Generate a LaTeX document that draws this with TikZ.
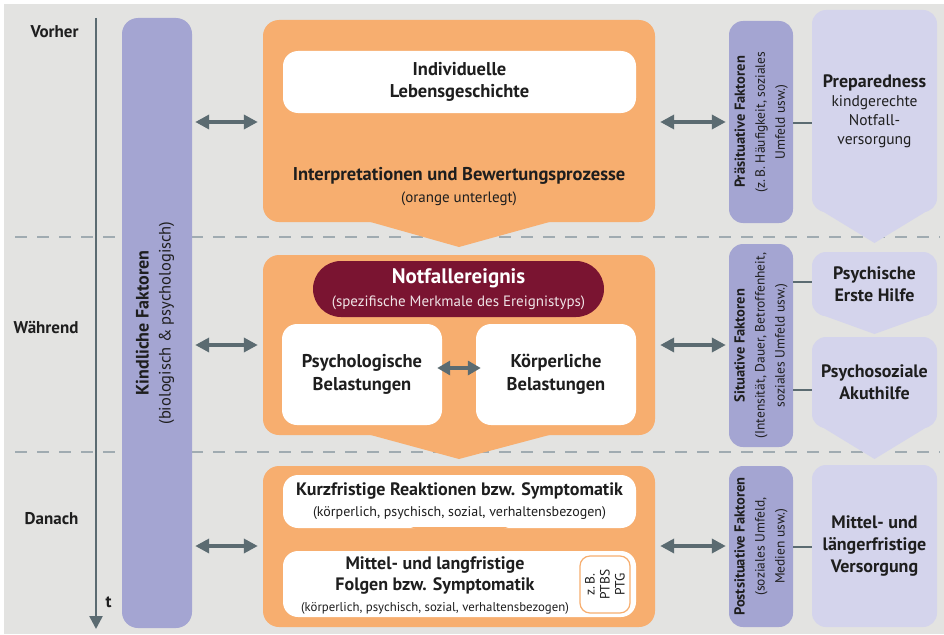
\documentclass[tikz,border=0pt]{standalone}
\usepackage{fontspec}
\setmainfont{PT Sans}
\usetikzlibrary{arrows.meta}
\definecolor{bggray}{HTML}{E3E3E1}
\definecolor{orangefill}{HTML}{F7AE6F}
\definecolor{factorfill}{HTML}{A4A5D2}
\definecolor{helpfill}{HTML}{D4D4EC}
\definecolor{eventred}{HTML}{7A1431}
\definecolor{arrowgray}{HTML}{5B6B71}
\definecolor{dashgray}{HTML}{A0ABB1}
\definecolor{textdark}{HTML}{1E1E1E}
\newcommand{\fs}[1]{\fontsize{#1}{#1}\selectfont}
\tikzset{
  orangebox/.style={fill=orangefill, rounded corners=16pt, minimum width=392pt, minimum height=#1, inner sep=0pt},
  whitebox/.style={fill=white, rounded corners=15pt, inner sep=0pt, align=center, text=textdark,
    font=\bfseries\fontsize{18.5}{22.5}\selectfont},
  factorbox/.style={fill=factorfill, rounded corners=14pt, minimum width=64pt, minimum height=#1, inner sep=0pt},
  helpbox/.style={fill=helpfill, rounded corners=14pt, minimum width=125pt, minimum height=#1, inner sep=0pt,
    align=center, text=textdark, font=\bfseries\fontsize{18}{22}\selectfont},
  factortext/.style={rotate=90, align=center, text=textdark, font=\fontsize{13.5}{20}\selectfont},
  dblarrow/.style={{Triangle[width=14pt,length=14pt]}-{Triangle[width=14pt,length=14pt]}, line width=3.5pt, draw=arrowgray},
  link/.style={draw=arrowgray, line width=1.6pt},
  phase/.style={anchor=east, text=textdark, font=\bfseries\fontsize{17}{20}\selectfont},
  sep/.style={draw=dashgray, line width=2.5pt, dash pattern=on 12pt off 10pt},
}
\begin{document}
\begin{tikzpicture}[x=1pt, y=-1pt]
\useasboundingbox (0,0) rectangle (944,634);
\fill[bggray] (4,4) rectangle (944,634);
% phases
\draw[sep] (15,237) -- (940,237);
\draw[sep] (15,452) -- (940,452);
\draw[arrowgray, line width=2.5pt, -{Triangle[width=13pt,length=13pt]}] (96,18) -- (96,629);
\node[phase] (vorher) at (82,32) {Vorher};
\node[phase] (waehrend) at (82,327) {Während};
\node[phase] (danach) at (82,519) {Danach};
\node[phase] (t) at (115,602) {t};
% child factors
\node[fill=factorfill, rounded corners=16pt, minimum width=70pt, minimum height=610pt, inner sep=0pt] (kind) at (157,323) {};
\node[rotate=90, align=center, text=textdark, font=\fontsize{16.5}{22}\selectfont] at ([xshift=-2pt]kind.center)
  {\textbf{\fs{18}Kindliche Faktoren}\\(biologisch \& psychologisch)};
% center column
\fill[orangefill] (367,221) -- (553,221) -- (459,247) -- cycle;
\fill[orangefill] (367,434) -- (553,434) -- (459,459) -- cycle;
\node[orangebox=202pt] (vor) at (459,121) {};
\node[orangebox=180pt] (waehr) at (459,345) {};
\node[orangebox=161pt] (nach) at (459,546.5) {};
\node[whitebox, minimum width=353pt, minimum height=62pt] (leben) at (459.5,82) {Individuelle\\Lebensgeschichte};
\node[align=center, text=textdark, font=\fontsize{15}{22}\selectfont] (interp) at (459,187)
  {\textbf{\fs{18.5}Interpretationen und Bewertungsprozesse}\\(orange unterlegt)};
\node[fill=eventred, rounded corners=28pt, minimum width=291pt, minimum height=56pt, inner sep=0pt,
  align=center, text=white, font=\fontsize{15}{23}\selectfont] (notfall) at (458.5,289)
  {\textbf{\fs{21}Notfallereignis}\\\textcolor{white!88!eventred}{(spezifische Merkmale des Ereignistyps)}};
\node[whitebox, minimum width=160pt, minimum height=101pt] (psych) at (362,374.5) {Psychologische\\Belastungen};
\node[whitebox, minimum width=160pt, minimum height=101pt] (koerp) at (556,374.5) {Körperliche\\Belastungen};
\draw[arrowgray, line width=3.5pt, {Triangle[width=14pt,length=13pt]}-{Triangle[width=14pt,length=13pt]}]
  ([xshift=-5pt]psych.east |- 0,368) -- ([xshift=5pt]koerp.west |- 0,368);
\node[whitebox, minimum width=353pt, minimum height=53pt] (kurz) at (459.5,501.5) {};
\node[align=center, text=textdark, font=\fontsize{14}{21}\selectfont] at (kurz)
  {\textbf{\fs{18}Kurzfristige Reaktionen bzw. Symptomatik}\\(körperlich, psychisch, sozial, verhaltensbezogen)};
\fill[orangefill] (411,527) -- (508,527) -- (459,546) -- cycle;
\node[whitebox, minimum width=353pt, minimum height=66pt] (folgen) at (459.5,584) {};
\node[align=center, text=textdark, font=\bfseries\fontsize{18}{21}\selectfont] at (435,586)
  {Mittel- und langfristige\\Folgen bzw. Symptomatik\\\mdseries\fontsize{12.8}{16}\selectfont(körperlich, psychisch, sozial, verhaltensbezogen)};
\node[draw=orangefill, line width=1.2pt, fill=white, rounded corners=10pt, minimum width=50pt, minimum height=57pt,
  inner sep=0pt] (ptbs) at (605,584.5) {};
\node[rotate=90, align=center, text=textdark, font=\fontsize{13.5}{15}\selectfont] at (ptbs) {z.\,B.\\PTBS\\PTG};
% situational factors
\node[factorbox=202pt] (prae) at (761,122) {};
\node[factortext] at (prae) {\textbf{\fs{14.5}Präsituative Faktoren}\\(z.\,B. Häufigkeit, soziales\\Umfeld usw.)};
\node[factorbox=203pt] (situ) at (761,345.5) {};
\node[factortext] at (situ) {\textbf{\fs{14.5}Situative Faktoren}\\(Intensität, Dauer, Betroffenheit,\\soziales Umfeld usw.)};
\node[factorbox=161pt] (post) at (761,546.5) {};
\node[factortext] at (post) {\textbf{\fs{14.5}Postsituative Faktoren}\\(soziales Umfeld,\\Medien usw.)};
% care column
\fill[helpfill] (822,211) -- (927,211) -- (874.5,243) -- cycle;
\fill[helpfill] (822,315) -- (927,315) -- (874.5,334) -- cycle;
\fill[helpfill] (822,427) -- (927,427) -- (874.5,459) -- cycle;
\node[helpbox=202pt, font=\mdseries\fontsize{15.5}{19}\selectfont] (prep) at (874.5,111)
  {\textbf{\fs{18}Preparedness}\\kindgerechte\\Notfall-\\versorgung};
\node[helpbox=64pt] (erste) at (874.5,284) {Psychische\\Erste Hilfe};
\node[helpbox=91pt] (akut) at (874.5,382.5) {Psychosoziale\\Akuthilfe};
\node[helpbox=162pt] (lang) at (874.5,546) {Mittel- und\\längerfristige\\Versorgung};
\draw[link] (prae.east |- 0,123) -- (prep.west |- 0,123);
\draw[link] (situ.east |- 0,282) -- (erste.west |- 0,282);
\draw[link] (situ.east |- 0,390) -- (akut.west |- 0,390);
\draw[link] (post.east |- 0,547) -- (lang.west |- 0,547);
% influences
\foreach \row/\y in {vor/122, waehr/345, nach/546} {
  \draw[dblarrow] ([xshift=3pt]kind.east |- 0,\y) -- ([xshift=-5pt]\row.west |- 0,\y);
  \draw[dblarrow] ([xshift=5pt]\row.east |- 0,\y) -- ([xshift=-3pt]prae.west |- 0,\y);
}
\end{tikzpicture}
\end{document}
